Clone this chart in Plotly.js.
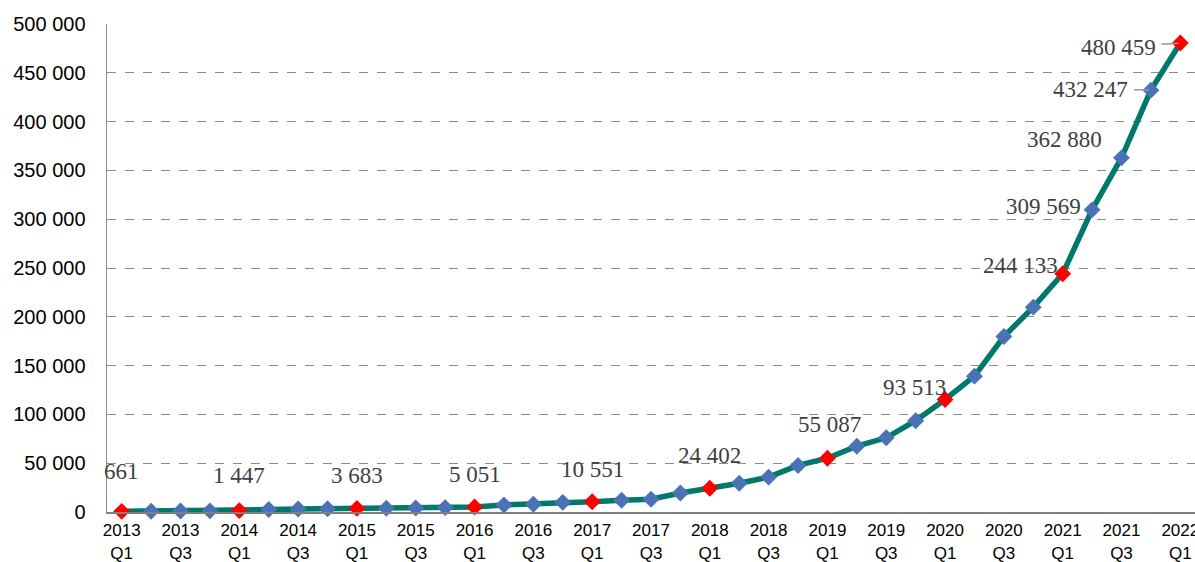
<!DOCTYPE html>
<html>
<head>
<meta charset="utf-8">
<script src="https://cdn.plot.ly/plotly-3.0.1.min.js"></script>
<style>html,body{margin:0;padding:0;background:#fff}#chart{width:1195px;height:562px}</style>
</head>
<body>
<div id="chart"></div>
<script>
// ---- data ----
const quarters = ["2013 Q1","2013 Q2","2013 Q3","2013 Q4",
  "2014 Q1","2014 Q2","2014 Q3","2014 Q4",
  "2015 Q1","2015 Q2","2015 Q3","2015 Q4",
  "2016 Q1","2016 Q2","2016 Q3","2016 Q4",
  "2017 Q1","2017 Q2","2017 Q3","2017 Q4",
  "2018 Q1","2018 Q2","2018 Q3","2018 Q4",
  "2019 Q1","2019 Q2","2019 Q3","2019 Q4",
  "2020 Q1","2020 Q2","2020 Q3","2020 Q4",
  "2021 Q1","2021 Q2","2021 Q3","2021 Q4",
  "2022 Q1"];
const values = [661, 800, 1000, 1200,
  1447, 2500, 3000, 3300,
  3683, 3900, 4100, 4500,
  5051, 7200, 7900, 9900,
  10551, 12000, 13000, 19500,
  24402, 29500, 35700, 47700,
  55087, 67400, 76000, 93513,
  115300, 139200, 179800, 209900,
  244133, 309569, 362880, 432247,
  480459];
const labelled = ["2013 Q1","2014 Q1","2015 Q1","2016 Q1","2017 Q1","2018 Q1","2019 Q1","2019 Q4","2021 Q1","2021 Q2","2021 Q3","2021 Q4","2022 Q1"];
const tickQuarters = quarters.filter((q,i)=>i%2===0);
const tickLabels = tickQuarters.map(q=>q.replace(" ","<br>"));

// ---- styling ----
// pixel offsets of data labels relative to their point (dy: negative = up)
const labelStyle = {
  "2013 Q1":{dx:0,dy:-40},"2014 Q1":{dx:0,dy:-35},"2015 Q1":{dx:0,dy:-33},
  "2016 Q1":{dx:0,dy:-33},"2017 Q1":{dx:0,dy:-32},"2018 Q1":{dx:0,dy:-33},
  "2019 Q1":{dx:2,dy:-34},"2019 Q4":{dx:-1,dy:-33},"2021 Q1":{dx:-42,dy:-8},
  "2021 Q2":{dx:-49,dy:-3},"2021 Q3":{dx:-57,dy:-18},
  "2021 Q4":{dx:-60,dy:-1,leader:true},"2022 Q1":{dx:-62,dy:4,leader:true}
};
function fmt(v){return String(v).replace(/\B(?=(\d{3})+(?!\d))/g," ");}

const markerColors = quarters.map(q=>q.endsWith("Q1") ? "#FF0000" : "#4A72B4");

const trace = {
  x: quarters, y: values, type:"scatter", mode:"lines+markers",
  line:{color:"#00796B", width:5.5},
  marker:{symbol:"diamond", size:13, color:markerColors, line:{width:0}},
  hoverinfo:"skip", cliponaxis:false
};

const annotations = labelled.map(q=>{
  const i = quarters.indexOf(q);
  const s = labelStyle[q];
  const base = {x:q, y:values[i], xref:"x", yref:"y", text:fmt(values[i]),
    font:{family:"Liberation Serif, serif", size:23, color:"#404040"}};
  if (s.leader){
    return Object.assign(base,{showarrow:true, arrowhead:0, arrowwidth:1.5, arrowcolor:"#999999",
      ax:s.dx, ay:s.dy, standoff:2, borderpad:5});
  }
  return Object.assign(base,{showarrow:false, xshift:s.dx, yshift:-s.dy});
});

const layout = {
  width:1195, height:562,
  margin:{l:107, r:0, t:24, b:50},
  paper_bgcolor:"#fff", plot_bgcolor:"#fff",
  separators:", ",
  showlegend:false,
  xaxis:{
    type:"category", range:[-0.5, quarters.length-0.5],
    tickvals:tickQuarters, ticktext:tickLabels, tickangle:0,
    tickfont:{family:"Liberation Sans, Arial, sans-serif", size:17, color:"#000"},
    showgrid:false, zeroline:false, showline:true, linecolor:"#808080", linewidth:2,
    ticks:"", ticklabelstandoff:2, fixedrange:true
  },
  yaxis:{
    range:[0,500000], dtick:50000, tickformat:",d",
    tickfont:{family:"Liberation Sans, Arial, sans-serif", size:20, color:"#000"},
    showgrid:true, gridcolor:"#8c8c8c", griddash:"dash", gridwidth:1,
    zeroline:false, showline:true, linecolor:"#8c8c8c", linewidth:1.5,
    ticks:"", ticklabelstandoff:16, fixedrange:true
  },
  annotations: annotations
};

Plotly.newPlot("chart",[trace],layout,{displayModeBar:false, staticPlot:true});
</script>
</body>
</html>
